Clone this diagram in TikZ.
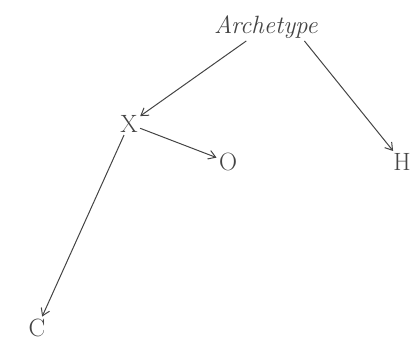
\documentclass[tikz,border=0pt]{standalone}
\usepackage{xcolor}
\usepackage{tikz}
\usetikzlibrary{arrows.meta}

\definecolor{ink}{HTML}{444444}

\begin{document}
\begin{tikzpicture}[x=1pt,y=-1pt,>={Straight Barb[length=7pt,width=9pt]},
    every node/.style={text=ink, inner sep=2pt, font=\fontsize{25}{29}\selectfont},
    every path/.style={draw=ink, line width=1pt}]
			\useasboundingbox[draw=none] (0,0) rectangle (414,350);

			\node (arch) at (266,27) {\textit{Archetype}};
			\node (X) at (129,124) {X};
			\node (O) at (228,162) {O};
			\node (H) at (402,162) {H};
			\node (C) at (37,328) {C};

			\draw[->] (arch) to (X);
			\draw[->] (arch.-20) to (H);
			\draw[->] (X) to (O);
			\draw[->] (X) to (C);
		\end{tikzpicture}
\end{document}
